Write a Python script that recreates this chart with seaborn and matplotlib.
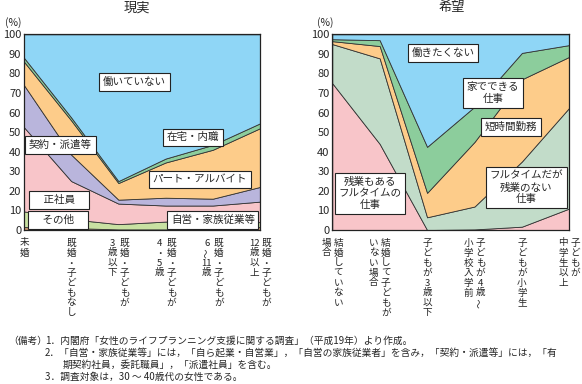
import re
import matplotlib
matplotlib.use("Agg")
import numpy as np
import pandas as pd
import seaborn as sns
import matplotlib.pyplot as plt
from matplotlib.transforms import blended_transform_factory

# =========================
# DATA (layer shares, %, bottom -> top)
# =========================
real_cats = ["未婚", "既婚・子どもなし", "既婚・子どもが\n3歳以下", "既婚・子どもが\n4・5歳",
             "既婚・子どもが\n6〜11歳", "既婚・子どもが\n12歳以上"]
real_other = [1.5, 1.0, 0.3, 0.3, 0.5, 1.5]
real_self = [8.0, 4.5, 2.7, 4.0, 4.5, 2.5]
real_regular = [43.0, 19.5, 10.5, 8.2, 7.5, 10.5]
real_contract = [21.5, 13.5, 2.0, 4.0, 3.5, 7.5]
real_part = [12.0, 17.5, 8.5, 18.0, 25.0, 30.0]
real_home = [2.0, 1.5, 1.0, 2.0, 2.5, 2.5]
real_none = [12.0, 42.5, 75.0, 63.5, 56.5, 45.5]

hope_cats = ["結婚していない\n場合", "結婚して子どもが\nいない場合", "子どもが3歳以下",
             "子どもが4歳〜\n小学校入学前", "子どもが小学生", "子どもが\n中学生以上"]
hope_full_ot = [75.0, 44.0, 0.0, 0.3, 1.7, 11.0]
hope_full_no_ot = [20.0, 43.7, 6.5, 11.7, 33.3, 51.5]
hope_short = [1.5, 6.3, 12.5, 33.0, 42.0, 26.0]
hope_home = [1.0, 3.0, 23.5, 18.0, 13.5, 6.0]
hope_none = [2.5, 3.0, 57.5, 37.0, 9.5, 5.5]

real_df = pd.DataFrame({
    "その他": real_other, "自営・家族従業等": real_self, "正社員": real_regular,
    "契約・派遣等": real_contract, "パート・アルバイト": real_part,
    "在宅・内職": real_home, "働いていない": real_none,
})
hope_df = pd.DataFrame({
    "残業もある\nフルタイムの\n仕事": hope_full_ot, "フルタイムだが\n残業のない\n仕事": hope_full_no_ot,
    "短時間勤務": hope_short, "家でできる\n仕事": hope_home, "働きたくない": hope_none,
})

real_colors = ["#c99870", "#c9e1a2", "#f8c5c9", "#b9b5dc", "#fdcc8a", "#8ccd9c", "#8fd6f6"]
hope_colors = ["#f8c5c9", "#c2dcc9", "#fdcc8a", "#8ccd9c", "#8fd6f6"]

# label positions (category index, %)
real_labels = {
    "働いていない": (2.34, 75.6), "在宅・内職": (3.58, 47.3), "契約・派遣等": (0.77, 43.4),
    "パート・アルバイト": (3.72, 25.8), "正社員": (0.75, 15.3), "その他": (0.72, 5.1),
    "自営・家族従業等": (4.0, 5.1),
}
hope_labels = {
    "働きたくない": (2.34, 90.4), "家でできる\n仕事": (3.39, 70.0), "短時間勤務": (3.77, 52.6),
    "フルタイムだが\n残業のない\n仕事": (4.09, 21.7), "残業もある\nフルタイムの\n仕事": (0.80, 18.6),
}

# =========================
# STYLE
# =========================
sns.set_style("white")
plt.rcParams["font.family"] = ["Noto Sans CJK JP", "DejaVu Sans"]

W, H = 582, 384
fig = plt.figure(figsize=(W / 100, H / 100), dpi=100)
ax1 = fig.add_axes([24 / W, 1 - 230 / H, 236 / W, 195.7 / H])
ax2 = fig.add_axes([332.3 / W, 1 - 230 / H, 237 / W, 195.7 / H])


def tate(ax, xi, label, y0=243, step=10, colgap=12):
    trans = blended_transform_factory(ax.transData, fig.transFigure)
    cols = label.split("\n")
    n = len(cols)
    unit = ax.bbox.width / 5
    for j, col in enumerate(cols):
        off = ((n - 1) / 2 - j) * colgap / unit
        for k, c in enumerate(re.findall(r"\d+|.", col)):
            fig.text(xi + off, 1 - (y0 + k * step) / H, c, transform=trans,
                     ha="center", va="center", fontsize=6.9,
                     rotation=90 if c == "〜" else 0)


def panel(ax, df, colors, cats, labels, title, tx):
    x = np.arange(len(df))
    polys = ax.stackplot(x, *[df[c].values for c in df.columns], colors=colors)
    for p in polys:
        p.set_edgecolor("#333333")
        p.set_linewidth(0.6)
    ax.set_xlim(0, 5)
    ax.set_ylim(0, 100)
    ax.set_yticks(range(0, 101, 10))
    ax.set_xticks(x)
    ax.set_xticklabels([])
    ax.tick_params(axis="both", direction="in", length=3, width=0.8, labelsize=8, pad=2)
    for s in ax.spines.values():
        s.set_color("#222222")
        s.set_linewidth(0.9)
    for txt, (lx, ly) in labels.items():
        shown = "　" + txt + "　" if txt in ("正社員", "その他") else txt
        ax.text(lx, ly, shown, ha="center", va="center", fontsize=7.6, linespacing=1.2,
                bbox=dict(boxstyle="square,pad=0.35", fc="white", ec="#222222", lw=0.8))
    for i, c in enumerate(cats):
        tate(ax, i, c)
    fig.text(tx / W, 1 - 8 / H, title, ha="center", va="center", fontsize=9.5)


panel(ax1, real_df, real_colors, real_cats, real_labels, "現実", 137)
panel(ax2, hope_df, hope_colors, hope_cats, hope_labels, "希望", 452)
fig.text(13 / W, 1 - 23 / H, "(%)", ha="center", va="center", fontsize=7.5)
fig.text(325 / W, 1 - 23 / H, "(%)", ha="center", va="center", fontsize=7.5)

# =========================
# NOTES
# =========================
notes = [
    (8, 341, "（備考）"),
    (45, 341, "1．内閣府「女性のライフプランニング支援に関する調査」（平成19年）より作成。"),
    (45, 353, "2．「自営・家族従業等」には，「自ら起業・自営業」，「自営の家族従業者」を含み，「契約・派遣等」には，「有"),
    (63, 365, "期契約社員，委託職員」，「派遣社員」を含む。"),
    (45, 377, "3．調査対象は，30 〜 40歳代の女性である。"),
]
for nx, ny, t in notes:
    fig.text(nx / W, 1 - ny / H, t, ha="left", va="center", fontsize=7.0)

plt.savefig("out.png", dpi=100)
plt.close()
